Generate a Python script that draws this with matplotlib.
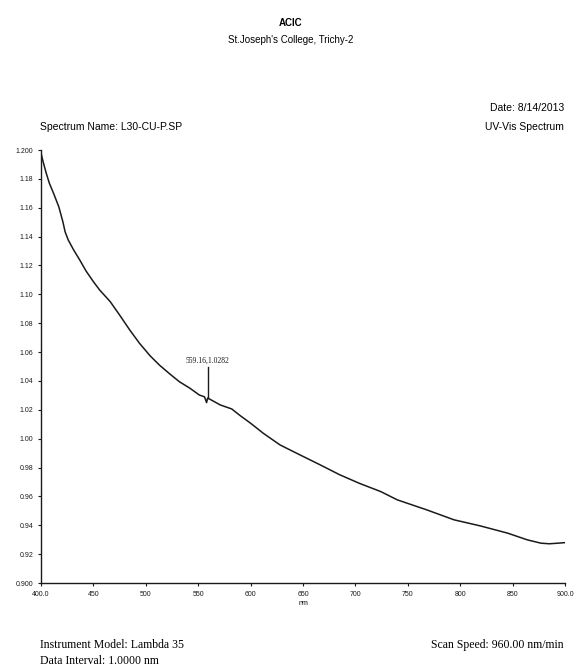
import numpy as np
import matplotlib
matplotlib.use("Agg")
import matplotlib.pyplot as plt

# --- data ----------------------------------------------------------------
wavelength = [400, 402, 405, 408, 412, 417, 421, 423, 426, 431, 437, 443,
              450, 456, 466, 475, 485, 494, 504, 513, 523, 532, 542, 551,
              556, 558, 559, 565, 571, 582, 590, 600, 612, 628, 647, 666,
              685, 704, 724, 740, 768, 794, 819, 845, 864, 877, 885, 893, 900]
absorbance = [1.198, 1.192, 1.184, 1.177, 1.170, 1.1607, 1.150, 1.1434,
              1.1377, 1.131, 1.1238, 1.1162, 1.1088, 1.1030, 1.0950, 1.0857,
              1.075, 1.0661, 1.0575, 1.0510, 1.0448, 1.0395, 1.035, 1.0303,
              1.029, 1.025, 1.0282, 1.0258, 1.0234, 1.0206, 1.0160, 1.0107,
              1.0038, 0.9957, 0.9888, 0.982, 0.975, 0.969, 0.9634, 0.9576,
              0.9507, 0.9438, 0.9396, 0.9346, 0.9299, 0.9276, 0.9272, 0.9276,
              0.928]

peak_nm, peak_abs = 559.16, 1.0282

x_ticks = [400, 450, 500, 550, 600, 650, 700, 750, 800, 850, 900]
x_labels = ["400.0", "450", "500", "550", "600", "650", "700", "750",
            "800", "850", "900.0"]
y_ticks = [0.90, 0.92, 0.94, 0.96, 0.98, 1.00, 1.02, 1.04, 1.06, 1.08,
           1.10, 1.12, 1.14, 1.16, 1.18, 1.20]
y_labels = ["0.900", "0.92", "0.94", "0.96", "0.98", "1.00", "1.02", "1.04",
            "1.06", "1.08", "1.10", "1.12", "1.14", "1.16", "1.18", "1.200"]

SANS = "Liberation Sans"
SERIF = "Liberation Serif"

# --- plot -----------------------------------------------------------------
fig = plt.figure(figsize=(5.82, 6.68), dpi=100)
ax = fig.add_axes([0.0704, 0.1272, 0.9006, 0.6482])

ax.plot(wavelength, absorbance, color="#1a1a1a", lw=1.1)
ax.plot([peak_nm, peak_nm], [peak_abs, 1.05], color="#1a1a1a", lw=1.0)
ax.text(peak_nm, 1.0515, "559.16,1.0282", family=SERIF, fontsize=5.5,
        ha="center", va="bottom", color="#1a1a1a")

ax.set_xlim(400, 900)
ax.set_ylim(0.90, 1.20)
ax.set_xticks(x_ticks)
ax.set_xticklabels(x_labels, family=SANS, fontsize=5)
ax.set_yticks(y_ticks)
ax.set_yticklabels(y_labels, family=SANS, fontsize=5)
ax.tick_params(direction="out", length=2.5, width=0.8, pad=3, colors="#1a1a1a")
for side in ("top", "right"):
    ax.spines[side].set_visible(False)
for side in ("left", "bottom"):
    ax.spines[side].set_linewidth(1.0)
    ax.spines[side].set_color("#1a1a1a")

ax.set_xlabel("nm", family=SANS, fontsize=5, labelpad=2)

# header / footer text
fig.text(0.5, 1 - 23 / 668, "ACIC", family=SANS, fontsize=7, weight="bold",
         ha="center", va="center")
fig.text(0.5, 1 - 40 / 668, "St.Joseph's College, Trichy-2", family=SANS,
         fontsize=7, ha="center", va="center")
fig.text(40 / 582, 1 - 127 / 668, "Spectrum Name: L30-CU-P.SP", family=SANS,
         fontsize=7.5, ha="left", va="center")
fig.text(564 / 582, 1 - 108 / 668, "Date: 8/14/2013", family=SANS,
         fontsize=7.5, ha="right", va="center")
fig.text(564 / 582, 1 - 127 / 668, "UV-Vis Spectrum", family=SANS,
         fontsize=7.5, ha="right", va="center")
fig.text(40 / 582, 1 - 645 / 668, "Instrument Model: Lambda 35", family=SERIF,
         fontsize=8.5, ha="left", va="center")
fig.text(40 / 582, 1 - 661 / 668, "Data Interval: 1.0000 nm", family=SERIF,
         fontsize=8.5, ha="left", va="center")
fig.text(564 / 582, 1 - 645 / 668, "Scan Speed: 960.00 nm/min", family=SERIF,
         fontsize=8.5, ha="right", va="center")

fig.savefig("out.png", dpi=100)
